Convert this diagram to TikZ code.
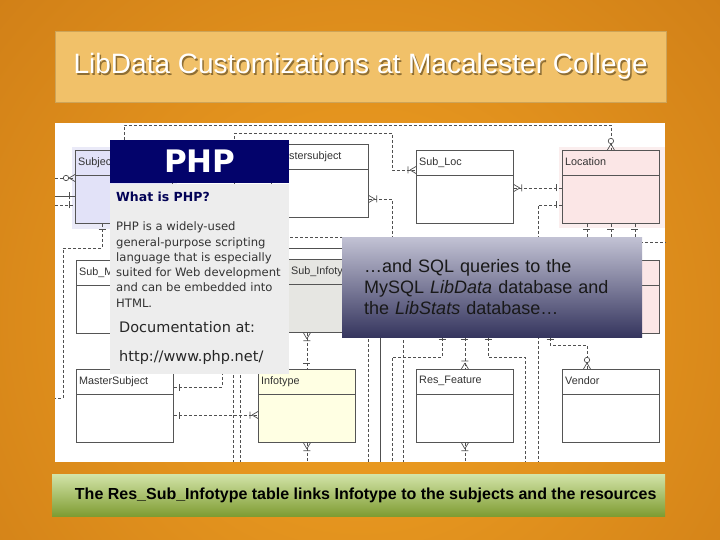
\documentclass[tikz,border=0pt]{standalone}
\usepackage{fontspec}
\setmainfont{Liberation Sans}
\newfontfamily\phpfont{DejaVu Sans}
\usetikzlibrary{arrows.meta,positioning,decorations.markings}

\definecolor{bgin}{HTML}{F2A324}
\definecolor{bgout}{HTML}{B25F0B}
\definecolor{titlefill}{HTML}{F1C169}
\definecolor{titleshade}{HTML}{8E6E34}
\definecolor{capt}{HTML}{D3E4A8}
\definecolor{capb}{HTML}{7E9C32}
\definecolor{phpnavy}{HTML}{03036B}
\definecolor{phpgray}{HTML}{EDEDED}
\definecolor{phptext}{HTML}{333333}
\definecolor{sqltop}{HTML}{C2C2D4}
\definecolor{sqlbot}{HTML}{35355E}
\definecolor{tline}{HTML}{555555}
\definecolor{ttext}{HTML}{333333}
\definecolor{lnk}{HTML}{505050}
\definecolor{subjfill}{HTML}{E2E2F8}
\definecolor{subjglow}{HTML}{EAEAF8}
\definecolor{locfill}{HTML}{FBE6E6}
\definecolor{locglow}{HTML}{FBEEEE}
\definecolor{infofill}{HTML}{FFFFE3}
\definecolor{rsifill}{HTML}{E6E6E2}

% ER line ends (bar, crow's foot, circle)
\tikzset{
  mk/.style={draw=lnk, solid, line width=.7pt},
  one start/.style={postaction={decorate,decoration={markings,
    mark=at position 6pt with {\draw[mk] (0,-3.5pt) -- (0,3.5pt);}}}},
  one end/.style={postaction={decorate,decoration={markings,
    mark=at position -6pt with {\draw[mk] (0,-3.5pt) -- (0,3.5pt);}}}},
  many start/.style={postaction={decorate,decoration={markings,
    mark=at position 6pt with {\draw[mk] (0,0) -- (-6pt,3.5pt) (0,0) -- (-6pt,-3.5pt) (2pt,-3.5pt) -- (2pt,3.5pt);}}}},
  many end/.style={postaction={decorate,decoration={markings,
    mark=at position -6pt with {\draw[mk] (0,0) -- (6pt,3.5pt) (0,0) -- (6pt,-3.5pt) (-2pt,-3.5pt) -- (-2pt,3.5pt);}}}},
  zmany end/.style={postaction={decorate,decoration={markings,
    mark=at position -6pt with {\draw[mk] (0,0) -- (6pt,3.5pt) (0,0) -- (6pt,-3.5pt); \draw[mk, fill=white] (-3pt,0) circle (2.7pt);}}}},
}

\begin{document}
\begin{tikzpicture}[
  x=1pt, y=-1pt,
  link/.style={draw=lnk, line width=.8pt, dash pattern=on 3pt off 2pt},
  table/.style={draw=tline, line width=.8pt, fill=white, anchor=north west, inner sep=0pt,
    minimum width=97pt, minimum height=73pt,
    path picture={\draw[tline, line width=.8pt] ([yshift=-25pt]path picture bounding box.north west) -- ([yshift=-25pt]path picture bounding box.north east);}},
  tname/.style={anchor=north west, inner sep=3pt, yshift=-4pt, text=ttext, font=\fontsize{10.8}{12}\selectfont},
  titlebox/.style={fill=titlefill, draw=titlefill!85!black, line width=.5pt, anchor=north west, minimum width=611pt, minimum height=71pt},
  titletxt/.style={font=\fontsize{28}{30}\selectfont, text=white},
  capbox/.style={top color=capt, bottom color=capb, anchor=north west, minimum width=613pt, minimum height=42pt, inner sep=0pt},
  captxt/.style={font=\bfseries\fontsize{16}{18}\selectfont, text=black},
  phphead/.style={fill=phpnavy, text=white, anchor=north west, minimum width=179pt, minimum height=43pt, inner sep=0pt,
    font=\phpfont\bfseries\fontsize{31}{31}\selectfont},
  phpbody/.style={fill=phpgray, minimum width=179pt, minimum height=190pt, inner sep=0pt},
  phptxt/.style={anchor=base west, inner sep=0pt, text=phptext, font=\phpfont\fontsize{11.6}{14}\selectfont},
  phpbig/.style={anchor=base west, inner sep=0pt, text=black!85, font=\phpfont\fontsize{14.5}{16}\selectfont},
  sqlbox/.style={top color=sqltop, bottom color=sqlbot, anchor=north west, minimum width=300pt, minimum height=100pt,
    inner sep=0pt, text width=256pt, align=left, text=black!90, font=\fontsize{18}{21}\selectfont}
]
\useasboundingbox (0,0) rectangle (720,540);
\begin{scope}
  \clip (0,0) rectangle (720,540);
  \shade[inner color=bgin, outer color=bgout] (360,320) circle [radius=940pt];
\end{scope}

% title
\node[titlebox] (tbox) at (55,31) {};
\node[titletxt, text=titleshade] (tshadow) at ([shift={(1.5pt,-1.5pt)}]tbox.center) {LibData Customizations at Macalester College};
\node[titletxt] (title) at (tbox.center) {LibData Customizations at Macalester College};

% ER diagram
\node[fill=white, anchor=north west, minimum width=610pt, minimum height=339pt, inner sep=0pt] (er) at (55,123) {};
\fill[subjglow] (72,147) rectangle (177,229);
\fill[locglow] (559,147) rectangle (665,228);

\node[table, fill=subjfill, label={[tname]north west:Subject}] (subj) at (75,150) {};
\node[table, label={[tname]north west:Mastersubject}] (mastr) at (271,144) {};
\node[table, label={[tname]north west:Sub\_Loc}] (subloc) at (416,150) {};
\node[table, fill=locfill, label={[tname]north west:Location}] (loc) at (562,150) {};
\node[table, label={[tname]north west:Sub\_M}] (submast) at (76,260) {};
\node[table, fill=rsifill, label={[tname, xshift=25pt]north west:Sub\_Infotype}] (rsi) at (263,259) {};
\node[table, fill=locfill] (pinkm) at (562,260) {};
\node[table, label={[tname]north west:MasterSubject}] (mastsubj) at (76,369) {};
\node[table, fill=infofill, label={[tname]north west:Infotype}] (info) at (258,369) {};
\node[table, label={[tname]north west:Res\_Feature}] (resfeat) at (416,369) {};
\node[table, label={[tname]north west:Vendor}] (vendor) at (562,369) {};

\draw[link, zmany end] (subj.north) -- ++(0,-25) -| (loc.north);
\draw[link, many end] (subj.east) -- ++(62,0) |- (392,133) |- (subloc.west |- 0,170);
\draw[link, many start] (mastr.east |- 0,199) -| (392,300);
\draw[link, many start, one end] (subloc.east |- 0,188) -- (loc.west |- 0,188);
\draw[link, one start] (loc.west |- 0,205) -| (er.south -| 538,0);
\foreach \dx in {-24,0,24}
  \draw[link, one start] ([xshift=\dx pt]loc.south) -- ++(0,20);
\draw[link] (620,242) -- (er.east |- 0,242);
\draw[link, zmany end] (er.west |- 0,178) -- (subj.west |- 0,178);
\draw[draw=lnk, line width=.8pt, one end] (er.west |- 0,196) -- (subj.west |- 0,196);
\draw[link, one end] (er.west |- 0,205) -- (subj.west |- 0,205);
\draw[link, one start] (subj.south -| 102,0) -- (102,248) -| (63,398) -- (er.west |- 0,398);
\draw[link, many start, one end] (info.north |- rsi.south) -- (info.north);
\draw[link, many start] (info.south) -- (info.south |- er.south);
\draw[link, one start] (mastsubj.east |- 0,387) -| (222,360);
\draw[link, one start, many end] (mastsubj.east |- 0,415) -- (info.west |- 0,415);
\foreach \x in {233,240,403}
  \draw[link] (\x,340) -- (er.south -| \x,0);
\draw[link] (280,237) -| (er.south -| 368,0);
\draw[draw=lnk, line width=.8pt] (289,248) -- (342,248);
\draw[draw=lnk, line width=.8pt] (380,330) -- (er.south -| 380,0);
\draw[link, one start] (442,333) |- (392,357) -- (er.south -| 392,0);
\draw[link, one start, many end] (resfeat.north |- 0,333) -- (resfeat.north);
\draw[link, one start] (488,333) |- (525,357) -- (er.south -| 525,0);
\draw[link, one start, zmany end] (550,333) |- (587,345) -- (vendor.north -| 587,0);
\draw[link, many start] (resfeat.south) -- (resfeat.south |- er.south);

% PHP call-out
\node[phphead] (phphead) at (110,140) {PHP};
\node[phpbody, below=0pt of phphead] (phpbody) {};
\node[phptxt, font=\phpfont\bfseries\fontsize{12.5}{14}\selectfont, text=phpnavy!80!black] (phpq) at (116,202) {What is PHP?};
\foreach \ln [count=\k from 0] in {PHP is a widely-used, general-purpose scripting, language that is especially,
    suited for Web development, and can be embedded into, HTML.}
  \node[phptxt] (phpl\k) at (116,230.7+15.3*\k) {\ln};
\node[phpbig] (phpdoc) at (119,332.5) {Documentation at:};
\node[phpbig] (phpurl) at (119,361.5) {http://www.php.net/};

% SQL call-out
\node[sqlbox] (sql) at (342,237) {…and SQL queries to the MySQL \textit{LibData} database and the \textit{LibStats} database…};

% caption
\node[capbox] (capbar) at (52,474) {};
\node[captxt] (capt) at ([xshift=7pt]capbar.center) {The Res\_Sub\_Infotype table links Infotype to the subjects and the resources};
\end{tikzpicture}
\end{document}
